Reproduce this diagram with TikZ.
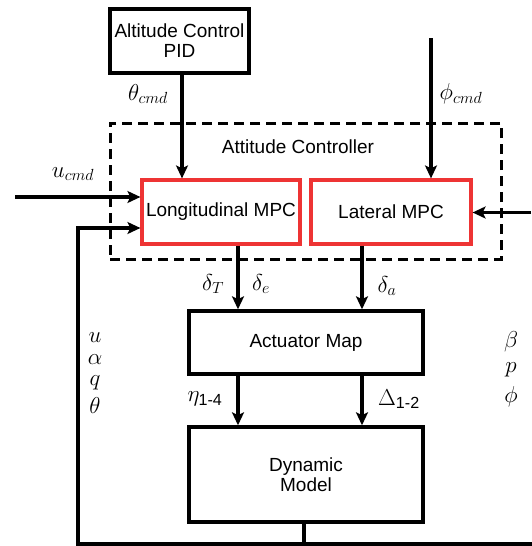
\RequirePackage{fix-cm}
\documentclass[tikz,border=0pt]{standalone}
\usepackage{amsmath}
\usepackage{fontspec}
\setmainfont{Liberation Sans}
\usetikzlibrary{arrows.meta,fit}
\definecolor{mpcred}{RGB}{238,52,52}
\begin{document}
\begin{tikzpicture}[x=1pt,y=-1pt,
  font=\fontsize{19}{22}\selectfont,
  blk/.style={draw=black,line width=3.4pt,inner sep=0pt,align=center},
  mpc/.style={draw=mpcred,line width=3.2pt,inner sep=0pt,align=center},
  conn/.style={line width=3.2pt},
  arr/.style={conn,-{Stealth[length=13pt,width=12pt,inset=3pt]}},
  lab/.style={inner sep=0pt,font=\fontsize{23}{27}\selectfont}]
\useasboundingbox (0,0) rectangle (531,546);
% blocks
\node[blk,minimum width=139pt,minimum height=64pt] (pid) at (179.5,41) {Altitude Control\\[-2pt]PID};
\node[mpc,minimum width=158pt,minimum height=64pt] (lon) at (221,212) {Longitudinal MPC};
\node[mpc,minimum width=160pt,minimum height=64pt] (lat) at (391,212) {Lateral MPC};
\node[blk,minimum width=234pt,minimum height=63pt] (act) at (306,342.5) {Actuator Map};
\node[blk,minimum width=234pt,minimum height=95pt] (dyn) at (306,474.5) {Dynamic\\[-2pt]Model};
% dashed attitude controller frame
\node[draw=black,line width=3pt,dash pattern=on 10pt off 6pt,inner sep=0pt,
      minimum width=391pt,minimum height=136pt] (att) at (305.5,191) {};
\node[inner sep=0pt] (attlab) at (298,147) {Attitude Controller};
% free ends
\coordinate (ustart) at (15,197);
\coordinate (phistart) at (431,38);
\coordinate (rstart) at (531,212.5);
\coordinate (fbleft) at (78,544);
\coordinate (fbright) at (531,544);
\coordinate (fbjoin) at (304,544);
% connectors
\draw[arr] (pid.south -| 182,0) -- (lon.north -| 182,0);
\draw[arr] (phistart) -- (lat.north -| phistart);
\draw[arr] (ustart) -- (lon.west |- ustart);
\draw[arr] (rstart) -- (lat.east |- rstart);
\draw[arr] (lon.south -| 238,0) -- (act.north -| 238,0);
\draw[arr] (lat.south -| 362,0) -- (act.north -| 362,0);
\draw[arr] (act.south -| 238,0) -- (dyn.north -| 238,0);
\draw[arr] (act.south -| 362,0) -- (dyn.north -| 362,0);
\draw[conn] (dyn.south -| fbjoin) -- (fbjoin);
\draw[conn,line cap=rect] (fbright) -- (fbleft);
\draw[arr] (fbleft) -- (78,228) -- (lon.west |- 0,228);
% labels
\node[lab] (lth) at (148,94) {$\theta_{cmd}$};
\node[lab] (lu) at (73,174) {$u_{cmd}$};
\node[lab] (lphi) at (461,94) {$\phi_{cmd}$};
\node[lab] (ldt) at (213,284) {$\delta_T$};
\node[lab] (lde) at (261,284) {$\delta_e$};
\node[lab] (lda) at (387,286) {$\delta_a$};
\node[lab] (leta) at (205,399) {$\eta_{\text{1-4}}$};
\node[lab] (lDel) at (399,399) {$\Delta_{\text{1-2}}$};
\node[lab] (ls1) at (95,338) {$u$};
\node[lab] (ls2) at (95,360) {$\alpha$};
\node[lab] (ls3) at (95,383) {$q$};
\node[lab] (ls4) at (95,406) {$\theta$};
\node[lab] (lr1) at (511,342) {$\beta$};
\node[lab] (lr2) at (511,370) {$p$};
\node[lab] (lr3) at (511,397) {$\phi$};
\end{tikzpicture}
\end{document}
